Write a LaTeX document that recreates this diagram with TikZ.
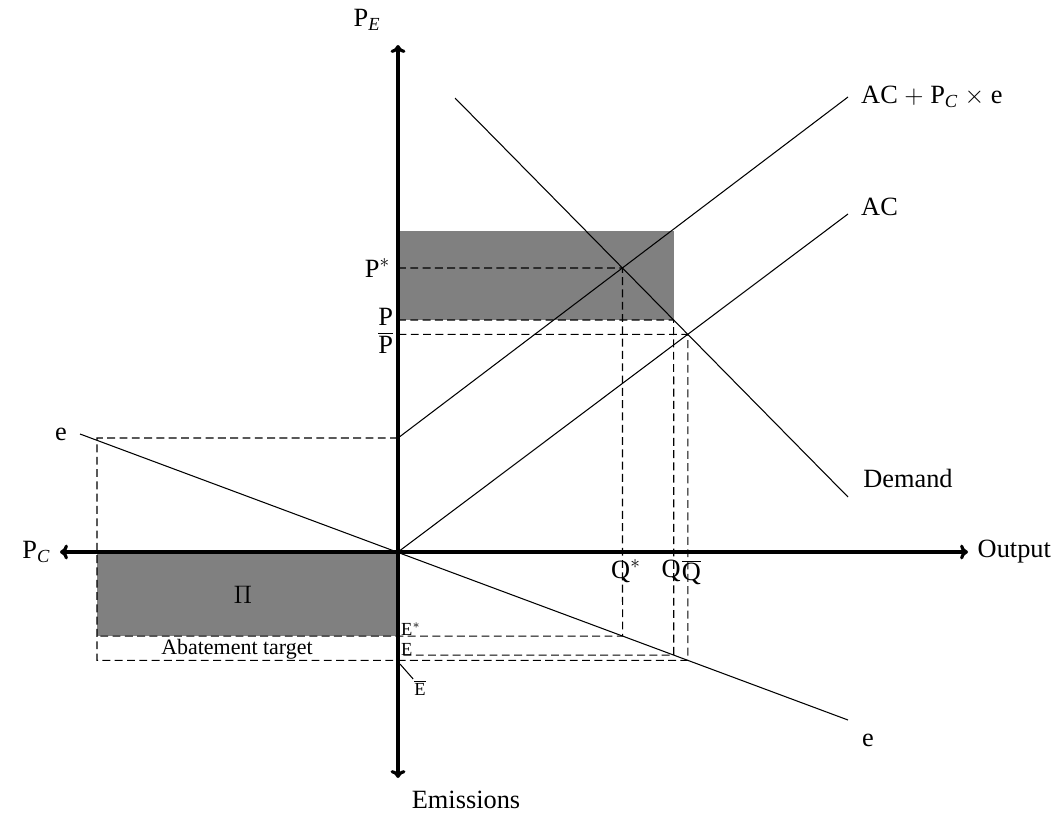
\documentclass[tikz,border=0pt]{standalone}
\usepackage{fontspec}
\setmainfont{Liberation Serif}
\usetikzlibrary{positioning}
\usetikzlibrary{arrows.meta}
\tikzstyle{axis} = [draw, line width=1.8pt, {Computer Modern Rightarrow[length=4.5pt, width=8.5pt]}-{Computer Modern Rightarrow[length=4.5pt, width=8.5pt]}]
\tikzstyle{curve} = [draw, line width=0.6pt]
\tikzstyle{guide} = [draw, line width=0.6pt, dash pattern=on 4.5pt off 2.5pt]
\tikzstyle{area} = [fill=gray]
\tikzstyle{elabel} = [font=\fontsize{10.5}{12}\selectfont, inner sep=0.5pt]

\begin{document}
\begin{tikzpicture}[x=0.02cm, y=-0.02cm, font=\fontsize{15}{18}\selectfont]
			\useasboundingbox (0,0) rectangle (1062,815);
			% axes and end points of the curves
			\coordinate (O) at (398,552);
			\coordinate (yTop) at (398,45);
			\coordinate (yBot) at (398,778);
			\coordinate (xLeft) at (60,552);
			\coordinate (xRight) at (968,552);
			\coordinate (acEnd) at (848,214);
			\coordinate (acpStart) at (398,438);
			\coordinate (acpEnd) at (848,97);
			\coordinate (dStart) at (455,98);
			\coordinate (dEnd) at (848,497);
			\coordinate (eStart) at (80,434);
			\coordinate (eEnd) at (848,720);
			\coordinate (pRow) at (398,320);
			\coordinate (pRowEnd) at (848,320);
			% equilibrium points
			\coordinate (Pstar) at (intersection of acpStart--acpEnd and dStart--dEnd);
			\coordinate (Qbar) at (intersection of O--acEnd and dStart--dEnd);
			\coordinate (Qpt) at (intersection of pRow--pRowEnd and dStart--dEnd);
			\coordinate (qStarAx) at (Pstar |- O);
			\coordinate (qAx) at (Qpt |- O);
			\coordinate (qBarAx) at (Qbar |- O);
			\coordinate (Estar) at (intersection of eStart--eEnd and Pstar--qStarAx);
			\coordinate (Ept) at (intersection of eStart--eEnd and Qpt--qAx);
			\coordinate (Ebar) at (intersection of eStart--eEnd and Qbar--qBarAx);
			\coordinate (eLvl) at (97,438);
			\coordinate (abTop) at (eLvl |- Estar);
			\coordinate (abBot) at (eLvl |- Ebar);
			% shaded areas
			\path [area] (398,231) rectangle (Qpt);
			\path [area] (eLvl |- O) rectangle (O |- Estar);
			% guide lines
			\path [guide] (acpStart) -- (eLvl) -- (abBot) -- (Ebar) -- (Qbar) -- (O |- Qbar);
			\path [guide] (O |- Pstar) -- (Pstar) -- (Estar) -- (abTop);
			\path [guide] (O |- Qpt) -- (Qpt) -- (Ept) -- (O |- Ept);
			% curves
			\path [curve] (O) -- (acEnd);
			\path [curve] (acpStart) -- (acpEnd);
			\path [curve] (dStart) -- (dEnd);
			\path [curve] (eStart) -- (eEnd);
			\path [axis] (yTop) -- (yBot);
			\path [axis] (xLeft) -- (xRight);
			% labels
			\node (pe) at (367,20) {P$_{\mathit{E}}$};
			\node (em) at (466,800) {Emissions};
			\node [left=2pt of xLeft] (pc) {P$_{\mathit{C}}$};
			\node [right=2pt of xRight] (out) {Output};
			\node [right=4pt of acpEnd] (acpLbl) {AC $+$ P$_{\mathit{C}}$ $\times$ e};
			\node [right=4pt of acEnd, yshift=4pt] (acLbl) {AC};
			\node (dLbl) at (908,478) {Demand};
			\node [left=4pt of eStart] (eLbl) {e};
			\node (eLbl2) at (868,740) {e};
			\node [left=1pt of O |- Pstar] (psLbl) {P$^*$};
			\node [anchor=east, inner sep=2pt] (pLbl) at (397,317) {P};
			\node [anchor=east, inner sep=2pt] (pbLbl) at (397,343) {$\overline{\mbox{P}}$};
			\node [below=1pt of qStarAx, xshift=2pt] (qsLbl) {Q$^*$};
			\node [below=1pt of qAx, xshift=-1.5pt, inner xsep=0pt] (qLbl) {Q};
			\node [below=1pt of qBarAx, xshift=2pt, inner xsep=0pt] (qbLbl) {$\overline{\mbox{Q}}$};
			\node [elabel, anchor=south west] (esLbl) at (400,637) {E$^*$};
			\node [elabel, anchor=south west] (eptLbl) at (400,657) {E};
			\node [elabel] (ebLbl) at (420,688) {$\overline{\mbox{E}}$};
			\coordinate (ebTick) at (400,664);
			\path [curve] (ebTick) -- (ebLbl.north west);
			\node (pi) at (243,595) {$\Pi$};
			\node [font=\fontsize{12.5}{14}\selectfont, inner sep=1pt] (abLbl) at (237,649) {Abatement target};
			
			\end{tikzpicture}
\end{document}
